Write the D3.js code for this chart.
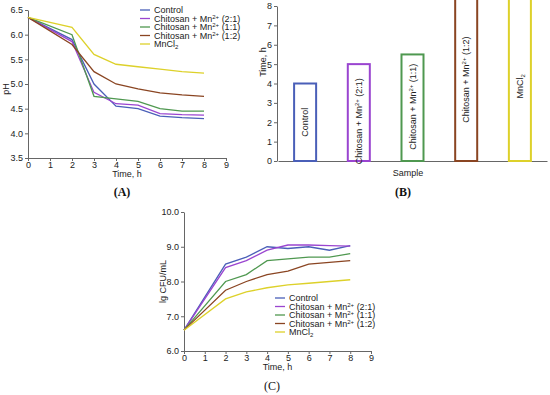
<!DOCTYPE html>
<html>
<head>
<meta charset="utf-8">
<script src="https://cdn.jsdelivr.net/npm/d3@7"></script>
<style>
  html, body { margin: 0; padding: 0; background: #fff; }
  svg { display: block; font-family: "Liberation Sans", Arial, sans-serif; }
  .axis path, .axis line { stroke: #666; }
  .axis text { fill: #222; font-size: 9px; font-family: "Liberation Sans", Arial, sans-serif; }
  .lbl { font-size: 9px; fill: #222; }
  .panel { font-family: "Liberation Serif", "Times New Roman", serif; font-size: 12px; fill: #111; }
</style>
</head>
<body>
<svg id="chart" width="550" height="395"></svg>
<script>
// --- data ---
const hours = [0, 2, 3, 4, 5, 6, 7, 8];
const seriesNames = ['Control', 'Chitosan + Mn2+ (2:1)', 'Chitosan + Mn2+ (1:1)', 'Chitosan + Mn2+ (1:2)', 'MnCl2'];
const seriesColors = ['#4a5fb8', '#9a45d0', '#4f9850', '#8a4522', '#ddd12a'];

// (A) pH over time
const phControl = [6.35, 5.9, 5.0, 4.55, 4.5, 4.35, 4.32, 4.3];
const ph21 = [6.35, 5.86, 4.83, 4.6, 4.57, 4.4, 4.38, 4.37];
const ph11 = [6.35, 6.0, 4.75, 4.7, 4.65, 4.5, 4.45, 4.45];
const ph12 = [6.35, 5.8, 5.25, 5.0, 4.9, 4.82, 4.78, 4.75];
const phMn = [6.35, 6.15, 5.6, 5.4, 5.35, 5.3, 5.25, 5.22];

// (B) time, h per sample (last two exceed 8 h)
const sampleTimes = [4, 5, 5.5, 9, 9];

// (C) lg CFU/mL over time
const cfuControl = [6.6, 8.5, 8.7, 9.0, 8.95, 9.0, 8.9, 9.03];
const cfu21 = [6.6, 8.4, 8.6, 8.9, 9.05, 9.05, 9.03, 9.02];
const cfu11 = [6.6, 8.0, 8.2, 8.6, 8.65, 8.7, 8.7, 8.8];
const cfu12 = [6.6, 7.75, 8.0, 8.2, 8.3, 8.5, 8.55, 8.6];
const cfuMn = [6.6, 7.5, 7.7, 7.82, 7.9, 7.95, 8.0, 8.05];

const timeTicks = d3.range(0, 10);
const phTicks = [3.5, 4.0, 4.5, 5.0, 5.5, 6.0, 6.5];
const sampleTicks = d3.range(0, 9);
const cfuTicks = [6, 7, 8, 9, 10];

const svg = d3.select('#chart');

// writes "Chitosan + Mn2+ (2:1)" / "MnCl2" with super/subscripts
function richName(sel, name) {
    sel.text(null);
    if (name === 'MnCl2') {
        sel.append('tspan').text('MnCl');
        sel.append('tspan').attr('dy', 2).style('font-size', '6px').text('2');
        return;
    }
    if (name.indexOf('Mn2+') < 0) {
        sel.text(name);
        return;
    }
    const parts = name.split('Mn2+');
    sel.append('tspan').text(parts[0] + 'Mn');
    sel.append('tspan').attr('dy', -3).style('font-size', '6px').text('2+');
    sel.append('tspan').attr('dy', 3).text(parts[1]);
}

function lineChart(g, opts) {
    const x = d3.scaleLinear().domain([0, 9]).range(opts.xRange);
    const y = d3.scaleLinear().domain(opts.yDomain).range(opts.yRange);

    g.append('g').attr('class', 'axis')
        .attr('transform', `translate(0,${opts.yRange[0]})`)
        .call(d3.axisBottom(x).tickValues(timeTicks).tickSize(3).tickSizeOuter(0).tickPadding(1).tickFormat(d3.format('d')));
    g.append('g').attr('class', 'axis')
        .attr('transform', `translate(${opts.xRange[0]},0)`)
        .call(d3.axisLeft(y).tickValues(opts.yTicks).tickSize(3).tickSizeOuter(0).tickPadding(2).tickFormat(d3.format('.1f')));

    const line = d3.line().x((d, i) => x(hours[i])).y(d => y(d));
    g.selectAll('path.series')
        .data(opts.series)
        .join('path')
        .attr('class', 'series')
        .attr('fill', 'none')
        .attr('stroke', (d, i) => seriesColors[i])
        .attr('stroke-width', 1.3)
        .attr('d', line);

    g.append('text').attr('class', 'lbl')
        .attr('x', (opts.xRange[0] + x(9)) / 2).attr('y', opts.yRange[0] + 19)
        .attr('text-anchor', 'middle').text('Time, h');
    g.append('text').attr('class', 'lbl')
        .attr('transform', `translate(${opts.yLabelX},${(opts.yRange[0] + opts.yRange[1]) / 2 + opts.yLabelShift}) rotate(-90)`)
        .attr('text-anchor', 'middle').text(opts.yLabel);

    const leg = g.append('g').attr('transform', `translate(${opts.legend[0]},${opts.legend[1]})`);
    const rows = leg.selectAll('g').data(seriesNames).join('g')
        .attr('transform', (d, i) => `translate(0,${i * 8.5})`);
    rows.append('line').attr('x1', 0).attr('x2', 10).attr('y1', 0).attr('y2', 0)
        .attr('stroke', (d, i) => seriesColors[i]).attr('stroke-width', 1.3);
    rows.append('text').attr('class', 'lbl').attr('x', 14).attr('y', 3.2)
        .each(function (d) { richName(d3.select(this), d); });
}

// (A)
lineChart(svg.append('g'), {
    xRange: [28, 226], yDomain: [3.5, 6.5], yRange: [158, 10], yTicks: phTicks,
    series: [phControl, ph21, ph11, ph12, phMn], yLabel: 'pH', yLabelX: 9, yLabelShift: 5, legend: [140, 10]
});
svg.append('text').attr('class', 'panel').attr('x', 122).attr('y', 196)
    .attr('text-anchor', 'middle').attr('font-weight', 'bold').text('(A)');

// (B)
const gb = svg.append('g');
const xb = d3.scaleBand().domain(seriesNames).range([278, 547]).paddingInner(0.59).paddingOuter(0.3);
const yb = d3.scaleLinear().domain([0, 8]).range([161, 6]);
gb.append('g').attr('class', 'axis')
    .attr('transform', `translate(0,${yb(0)})`)
    .call(d3.axisBottom(xb).tickSize(0).tickSizeOuter(0).tickFormat(''));
gb.append('g').attr('class', 'axis')
    .attr('transform', 'translate(277,0)')
    .call(d3.axisLeft(yb).tickValues(sampleTicks).tickSize(3).tickSizeOuter(0).tickPadding(2));
gb.selectAll('rect.bar')
    .data(sampleTimes)
    .join('rect')
    .attr('class', 'bar')
    .attr('x', (d, i) => xb(seriesNames[i]))
    .attr('width', xb.bandwidth())
    .attr('y', d => yb(d))
    .attr('height', d => yb(0) - yb(d))
    .attr('fill', '#fff')
    .attr('stroke', (d, i) => seriesColors[i])
    .attr('stroke-width', 2);
const labelMid = [2.0, 2.05, 2.8, 4.2, 3.85];
gb.selectAll('text.barlbl')
    .data(seriesNames)
    .join('text')
    .attr('class', 'lbl barlbl')
    .attr('text-anchor', 'middle')
    .attr('transform', (d, i) => `translate(${xb(d) + xb.bandwidth() / 2 + 3},${yb(labelMid[i])}) rotate(-90)`)
    .each(function (d) { richName(d3.select(this), d); });
gb.append('text').attr('class', 'lbl').attr('x', 408).attr('y', 176)
    .attr('text-anchor', 'middle').text('Sample');
gb.append('text').attr('class', 'lbl')
    .attr('transform', 'translate(266,62) rotate(-90)')
    .attr('text-anchor', 'middle').text('Time, h');
svg.append('text').attr('class', 'panel').attr('x', 403).attr('y', 196)
    .attr('text-anchor', 'middle').attr('font-weight', 'bold').text('(B)');

// (C)
lineChart(svg.append('g'), {
    xRange: [184, 371], yDomain: [6, 10], yRange: [351, 212], yTicks: cfuTicks,
    series: [cfuControl, cfu21, cfu11, cfu12, cfuMn], yLabel: 'lg CFU/mL', yLabelX: 166, yLabelShift: 0, legend: [275, 298]
});
svg.append('text').attr('class', 'panel').attr('x', 272).attr('y', 390)
    .attr('text-anchor', 'middle').text('(C)');
</script>
</body>
</html>
